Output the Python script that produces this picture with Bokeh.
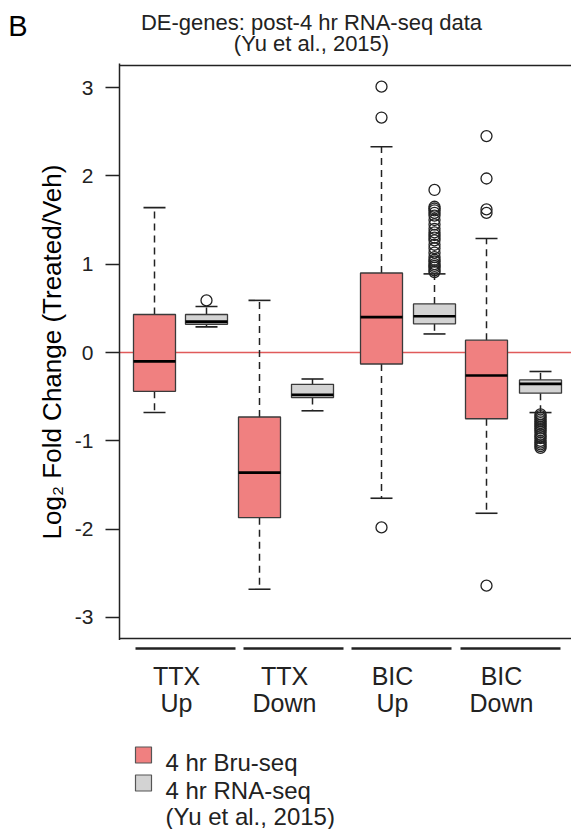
from bokeh.plotting import figure
from bokeh.models import Range1d, FixedTicker, Span, CustomJSTickFormatter
from bokeh.layouts import column
from bokeh.core.properties import value
from bokeh.embed import file_html
from bokeh.resources import INLINE

# ---------------- data ----------------
groups_top = ["TTX", "TTX", "BIC", "BIC"]
groups_bottom = ["Up", "Down", "Up", "Down"]

bru_lo = [-0.68, -2.68, -1.65, -1.82]
bru_q1 = [-0.44, -1.87, -0.13, -0.75]
bru_med = [-0.10, -1.36, 0.40, -0.26]
bru_q3 = [0.43, -0.73, 0.90, 0.14]
bru_hi = [1.64, 0.59, 2.33, 1.29]
bru_out = [[], [], [3.01, 2.66, -1.98], [2.45, 1.97, 1.62, 1.58, -2.64]]

rna_lo = [0.29, -0.66, 0.21, -0.68]
rna_q1 = [0.32, -0.51, 0.325, -0.46]
rna_med = [0.35, -0.48, 0.41, -0.355]
rna_q3 = [0.43, -0.36, 0.55, -0.31]
rna_hi = [0.52, -0.30, 0.89, -0.215]
rna_out = [
    [0.59],
    [],
    [1.84, 1.65, 1.63, 1.61, 1.58, 1.55, 1.50, 1.45, 1.40, 1.36, 1.33, 1.30,
     1.27, 1.22, 1.18, 1.13, 1.08, 1.05, 1.03, 1.00, 0.98, 0.96, 0.93, 0.91],
    [-0.70, -0.72, -0.74, -0.76, -0.78, -0.80, -0.82, -0.84, -0.86, -0.88,
     -0.90, -0.93, -0.95, -0.97, -1.00, -1.02, -1.04, -1.06, -1.08],
]

y_ticks = [-3, -2, -1, 0, 1, 2, 3]
legend_labels = ["4 hr Bru-seq", "4 hr RNA-seq", "(Yu et al., 2015)"]
title_lines = ["DE-genes: post-4 hr RNA-seq data", "(Yu et al., 2015)"]
panel_letter = "B"
y_label = "Log\u2082 Fold Change (Treated/Veh)"

# ---------------- layout / style constants ----------------
FONT = "Liberation Sans"
BRU_X = [35, 140, 262, 367]
RNA_X = [87, 193, 315, 421]
GROUP_X = [66, 174, 282, 391]
BOX_W = 42
CAP_HALF = 11
BRU_COL = "#F08080"
RNA_COL = "#D3D3D3"
EDGE = "#3a3a3a"

W = 571
LEFT = 119
TOP = 63
Y0_PX = 352.0       # pixel row of value 0
PX_PER_UNIT = 88.33


def yval(px_row):
    """page pixel row -> data value on the main y scale"""
    return (Y0_PX - px_row) / PX_PER_UNIT


# ---------------- top figure (titles) ----------------
top = figure(width=W, height=TOP, x_range=Range1d(0, W - LEFT), y_range=Range1d(TOP, 0),
             output_backend="svg", toolbar_location=None, title=None,
             min_border_left=LEFT, min_border_right=0, min_border_top=0, min_border_bottom=0,
             x_axis_location=None, outline_line_color=None)
top.grid.visible = False
tax = top.yaxis[0]
tax.ticker = FixedTicker(ticks=[25])
tax.formatter = CustomJSTickFormatter(code='return "%s";' % panel_letter)
tax.axis_line_color = None
tax.major_tick_line_color = None
tax.minor_tick_line_color = None
tax.major_tick_out = 0
tax.major_tick_in = 0
tax.major_label_standoff = 92
tax.major_label_text_font = FONT
tax.major_label_text_font_size = "29px"
tax.major_label_text_color = "black"

top.text(x=[311 - LEFT] * 2, y=[22, 43], text=title_lines, text_font=value(FONT),
         text_font_size=value("22px"), text_color="#222222",
         text_align="center", text_baseline="alphabetic")

# ---------------- main figure ----------------
p = figure(width=W, height=640 - TOP, x_range=top.x_range,
           y_range=Range1d(yval(640), yval(TOP)),
           output_backend="svg", toolbar_location=None, title=None,
           min_border_left=LEFT, min_border_right=0, min_border_top=0,
           min_border_bottom=0, x_axis_location=None, outline_line_color=None)
p.grid.visible = False

ax = p.yaxis[0]
ax.ticker = FixedTicker(ticks=y_ticks)
ax.formatter = CustomJSTickFormatter(code="return tick.toFixed(0);")
ax.axis_line_width = 1.5
ax.axis_line_color = "#222222"
ax.major_tick_out = 14
ax.major_tick_in = 0
ax.major_tick_line_width = 1.5
ax.major_tick_line_color = "#222222"
ax.minor_tick_line_color = None
ax.major_label_text_font = FONT
ax.major_label_text_font_size = "21px"
ax.major_label_text_color = "#222222"
ax.major_label_standoff = 12
ax.axis_label = y_label
ax.axis_label_text_font = FONT
ax.axis_label_text_font_size = "26px"
ax.axis_label_text_font_style = "normal"
ax.axis_label_text_color = "black"
ax.axis_label_standoff = 5

# frame lines and zero line
p.add_layout(Span(location=yval(65), dimension="width", line_color="#222222", line_width=1.5))
p.add_layout(Span(location=yval(638), dimension="width", line_color="#222222", line_width=1.5))
p.add_layout(Span(location=0, dimension="width", line_color="#E05A5A", line_width=1.3,
                  level="underlay"))


def draw_boxes(xs, lo, q1, med, q3, hi, outs, fill):
    p.segment(x0=xs, x1=xs, y0=q3, y1=hi, line_color="#222222", line_width=1.5,
              line_dash="7 5")
    p.segment(x0=xs, x1=xs, y0=q1, y1=lo, line_color="#222222", line_width=1.5,
              line_dash="7 5")
    cx0 = [x - CAP_HALF for x in xs]
    cx1 = [x + CAP_HALF for x in xs]
    p.segment(x0=cx0, x1=cx1, y0=hi, y1=hi, line_color="#222222", line_width=1.6)
    p.segment(x0=cx0, x1=cx1, y0=lo, y1=lo, line_color="#222222", line_width=1.6)
    p.vbar(x=xs, bottom=q1, top=q3, width=BOX_W, fill_color=fill,
           line_color=EDGE, line_width=1.3)
    mx0 = [x - BOX_W / 2 for x in xs]
    mx1 = [x + BOX_W / 2 for x in xs]
    p.segment(x0=mx0, x1=mx1, y0=med, y1=med, line_color="black", line_width=2.6)
    ox, oy = [], []
    for x, vals in zip(xs, outs):
        for v in vals:
            ox.append(x)
            oy.append(v)
    if ox:
        p.scatter(x=ox, y=oy, marker="circle", size=11, fill_color=None,
                  line_color="#222222", line_width=1.3)


draw_boxes(BRU_X, bru_lo, bru_q1, bru_med, bru_q3, bru_hi, bru_out, BRU_COL)
draw_boxes(RNA_X, rna_lo, rna_q1, rna_med, rna_q3, rna_hi, rna_out, RNA_COL)

# ---------------- bottom figure (group labels + legend) ----------------
bot = figure(width=W, height=829 - 640, x_range=top.x_range, y_range=Range1d(829, 640),
             output_backend="svg", toolbar_location=None, title=None,
             min_border_left=LEFT, min_border_right=0, min_border_top=0, min_border_bottom=0,
             x_axis_location=None, y_axis_location=None, outline_line_color=None)
bot.grid.visible = False

bot.segment(x0=[g - 50 for g in GROUP_X], x1=[g + 50 for g in GROUP_X],
            y0=[648] * 4, y1=[648] * 4, line_color="#222222", line_width=2.5)
lab_x = [g - 9 for g in GROUP_X]
bot.text(x=lab_x, y=[675] * 4, text=groups_top, text_font=value(FONT),
         text_font_size=value("25px"), text_color="#222222",
         text_align="center", text_baseline="alphabetic")
bot.text(x=lab_x, y=[702] * 4, text=groups_bottom, text_font=value(FONT),
         text_font_size=value("25px"), text_color="#222222",
         text_align="center", text_baseline="alphabetic")

bot.rect(x=[24, 24], y=[754.5, 782.5], width=16, height=16,
         fill_color=[BRU_COL, RNA_COL], line_color="#555555", line_width=1.2)
bot.text(x=[46, 46, 46], y=[762, 790, 816], text=legend_labels, text_font=value(FONT),
         text_font_size=value("24px"), text_color="#222222",
         text_align="left", text_baseline="alphabetic")

layout = column(top, p, bot, spacing=0)

open("out.html", "w").write(file_html(layout, INLINE))
